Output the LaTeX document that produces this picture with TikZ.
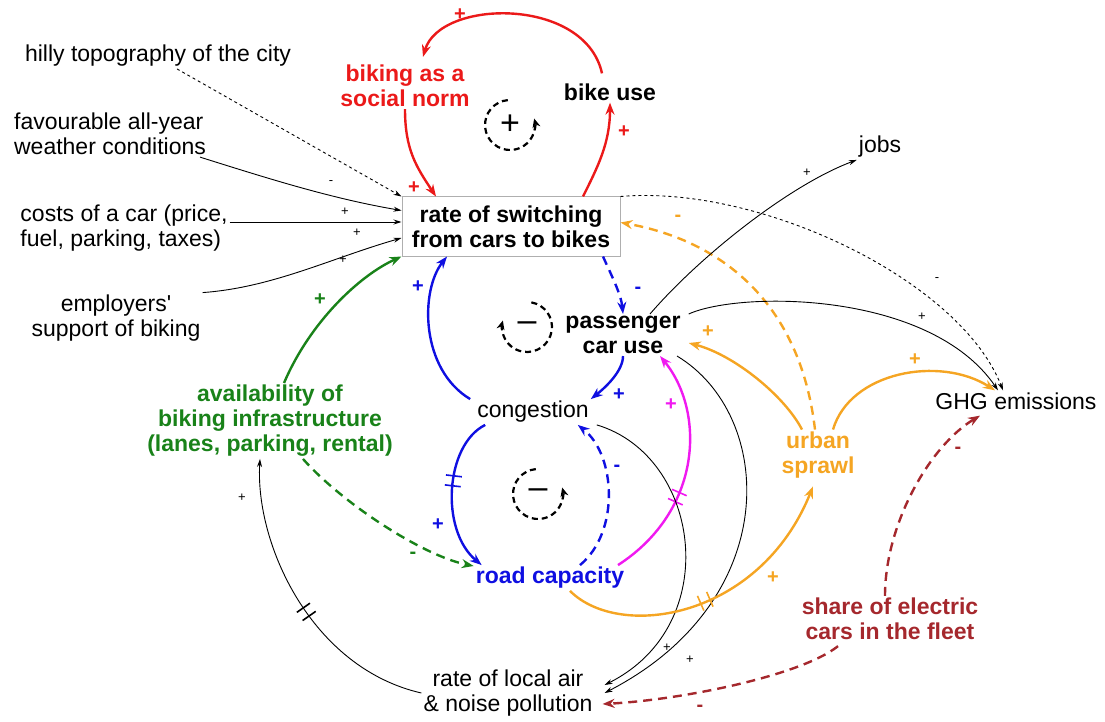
\documentclass[tikz,border=0pt]{standalone}
\usepackage{fontspec}
\setmainfont{Liberation Sans}
\usetikzlibrary{arrows.meta,decorations.markings}

\definecolor{cldred}{RGB}{235,25,25}
\definecolor{cldblue}{RGB}{15,15,225}
\definecolor{cldgreen}{RGB}{25,130,25}
\definecolor{cldorange}{RGB}{245,165,35}
\definecolor{cldmagenta}{RGB}{240,25,240}
\definecolor{cldbrown}{RGB}{165,40,45}
\definecolor{boxgray}{RGB}{175,175,175}

\begin{document}
\begin{tikzpicture}[x=1pt, y=-1pt,
    var/.style={font=\fontsize{23}{25}\selectfont, inner sep=2pt, align=center},
    bvar/.style={var, font=\fontsize{23}{25}\selectfont\bfseries},
    link/.style={-{Stealth[length=12pt,width=9pt]}, line width=2.4pt},
    thinlink/.style={-{Stealth[length=8pt,width=5pt]}, line width=0.9pt},
    dotlink/.style={thinlink, dash pattern=on 3pt off 3pt},
    dashlink/.style={link, dash pattern=on 9pt off 6pt},
    pol/.style={font=\fontsize{20}{20}\selectfont\bfseries, inner sep=0pt},
    spol/.style={font=\fontsize{13}{13}\selectfont, inner sep=0pt},
    delay/.style={postaction={decorate, decoration={markings, mark=at position #1 with {\draw[-, solid, line width=1.6pt] (-5pt,-8pt) -- (-5pt,8pt) (5pt,-8pt) -- (5pt,8pt);}}}},
    loopline/.style={-{Stealth[length=9pt,width=8pt]}, line width=2.2pt, dash pattern=on 6pt off 4pt},
    loopsign/.style={font=\fontsize{34}{34}\selectfont, inner sep=0pt}]

    \useasboundingbox (0,0) rectangle (1105,722);

    \node[var] (hilly) at (158,56) {hilly topography of the city};
    \node[var, align=left] (weather) at (110,134) {favourable all-year\\weather conditions};
    \node[var, align=left] (costs) at (124,228) {costs of a car (price,\\fuel, parking, taxes)};
    \node[var] (employ) at (116,318) {employers\textquotesingle\\support of biking};
    \node[bvar, draw=boxgray, line width=1pt, minimum width=218pt, minimum height=59pt] (rate) at (511,226.5) {rate of switching\\from cars to bikes};
    \node[bvar, text=cldred] (norm) at (405,86) {biking as a\\social norm};
    \node[bvar] (bike) at (610,92) {bike use};
    \node[bvar] (car) at (623,335) {passenger\\car use};
    \node[var] (cong) at (533,412) {congestion};
    \node[bvar, text=cldblue] (road) at (550,578) {road capacity};
    \node[bvar, text=cldgreen] (infra) at (270,421) {availability of\\biking infrastructure\\(lanes, parking, rental)};
    \node[var] (jobs) at (880,147) {jobs};
    \node[var] (ghg) at (1016,401) {GHG emissions};
    \node[bvar, text=cldorange] (sprawl) at (818,455) {urban\\sprawl};
    \node[bvar, text=cldbrown] (share) at (890,619) {share of electric\\cars in the fleet};
    \node[var] (poll) at (508,693) {rate of local air\\\& noise pollution};

    \node[loopsign] (loopR) at (510,125) {+};
    \node[loopsign] (loopB1) at (527,327) {\textendash};
    \node[loopsign] (loopB2) at (538,494) {\textendash};
    \draw[loopline] (loopR.center) ++(265:25) arc[start angle=265, end angle=-15, radius=25];
    \draw[loopline] (loopB1.center) ++(-80:25) arc[start angle=-80, end angle=195, radius=25];
    \draw[loopline] (loopB2.center) ++(265:25) arc[start angle=265, end angle=-15, radius=25];

    \draw[dotlink] ([xshift=19pt]hilly.south) -- (rate.north west) node[spol, at={(331,183)}] {-};
    \draw[thinlink] ([xshift=-8pt]weather.south east) .. controls +(70,22) and +(-70,-12) .. ([yshift=16pt]rate.west) node[spol, at={(345,212)}] {+};
    \draw[thinlink] ([yshift=6pt]costs.east) -- ([yshift=4.5pt]rate.west) node[spol, at={(357,233)}] {+};
    \draw[thinlink] (employ.north east) .. controls +(70,-5) and +(-70,20) .. ([yshift=-11.5pt]rate.west) node[spol, at={(343,260)}] {+};

    \draw[link, cldred] (norm.south) .. controls +(0,40) and +(-20,-30) .. ([xshift=-75pt]rate.north) node[pol, at={(414,188)}] {+};
    \draw[link, cldred] ([xshift=72pt]rate.north) .. controls +(15,-30) and +(0,40) .. (bike.south) node[pol, at={(624,132)}] {+};
    \draw[link, cldred] ([xshift=-8pt,yshift=8pt]bike.north) .. controls +(-17,-77) and +(17,-58) .. ([xshift=18pt,yshift=6pt]norm.north) node[pol, at={(460,15)}] {+};

    \draw[dashlink, cldblue] ([xshift=92pt]rate.south) .. controls +(8,18) and +(-2,-20) .. (car.north) node[pol, at={(638,290)}] {-};
    \draw[link, cldblue] (car.south) .. controls +(0,15) and +(15,-12) .. (cong.north east) node[pol, at={(619,395)}] {+};
    \draw[link, cldblue] ([xshift=-5pt]cong.north west) .. controls +(-50,-30) and +(-27,34) .. ([xshift=-64pt]rate.south) node[pol, at={(418,287)}] {+};
    \draw[link, cldblue, delay=0.42] ([xshift=10pt]cong.south west) .. controls +(-40,20) and +(-42,-35) .. ([xshift=8pt]road.north west) node[pol, at={(438,525)}] {+};
    \draw[dashlink, cldblue] ([xshift=30pt]road.north) .. controls +(40,-33) and +(38,30) .. ([xshift=-13pt]cong.south east) node[pol, at={(617,468)}] {-};
    \draw[link, cldmagenta, delay=0.38] ([xshift=68pt]road.north) .. controls +(85,-55) and +(45,55) .. ([xshift=37pt]car.south) node[pol, at={(671,405)}] {+};

    \draw[link, cldgreen] ([xshift=14pt]infra.north) .. controls +(26,-61) and +(-42,19) .. (rate.south west) node[pol, at={(320,300)}] {+};
    \draw[dashlink, cldgreen] ([xshift=33pt]infra.south) .. controls +(40,45) and +(-50,-10) .. ([yshift=12pt]road.west) node[pol, at={(413,555)}] {-};

    \draw[thinlink, delay=0.47] (poll.west) .. controls +(-110,-25) and +(-5,85) .. ([xshift=-10pt]infra.south) node[spol, at={(242,498)}] {+};
    \draw[thinlink] ([xshift=6pt]cong.south east) .. controls +(104,31) and +(120,-60) .. ([xshift=10pt,yshift=8pt]poll.east) node[spol, at={(667,648)}] {+};
    \draw[thinlink] ([xshift=54pt]car.south) .. controls +(98,59) and +(180,-93) .. ([xshift=10pt]poll.east) node[spol, at={(690,660)}] {+};

    \draw[link, cldorange, delay=0.47] ([xshift=20pt]road.south) .. controls +(50,50) and +(-53,132) .. ([xshift=-5pt,yshift=-6pt]sprawl.south) node[pol, at={(773,578)}] {+};
    \draw[link, cldorange] ([xshift=-16pt]sprawl.north) .. controls +(-17,-33) and +(46,12) .. ([xshift=6pt,yshift=-8pt]car.east) node[pol, at={(708,332)}] {+};
    \draw[dashlink, cldorange] ([xshift=-3pt]sprawl.north) .. controls +(-15,-128) and +(100,18) .. ([yshift=4pt]rate.east) node[pol, at={(678,218)}] {-};
    \draw[link, cldorange] ([xshift=15pt]sprawl.north) .. controls +(17,-58) and +(-55,-35) .. ([xshift=-21pt]ghg.north) node[pol, at={(915,360)}] {+};

    \draw[thinlink] ([xshift=27pt]car.north) .. controls +(50,-58) and +(-67,25) .. (jobs.south west) node[spol, at={(807,173)}] {+};
    \draw[thinlink] ([xshift=6pt]car.north east) .. controls +(51,-23) and +(-68,-100) .. ([xshift=-18pt]ghg.north) node[spol, at={(922,317)}] {+};
    \draw[dotlink] (rate.north east) .. controls +(140,-12) and +(-43,-110) .. ([xshift=-13pt]ghg.north) node[spol, at={(937,280)}] {-};

    \draw[dashlink, cldbrown] ([xshift=-5pt]share.north) .. controls +(0,-72) and +(-50,30) .. ([xshift=-36pt,yshift=-4pt]ghg.south) node[pol, at={(958,450)}] {-};
    \draw[dashlink, cldbrown] ([xshift=-52pt,yshift=-4pt]share.south) .. controls +(-38,30) and +(77,-4) .. ([xshift=8pt,yshift=-11pt]poll.east) node[pol, at={(700,708)}] {-};

\end{tikzpicture}
\end{document}
